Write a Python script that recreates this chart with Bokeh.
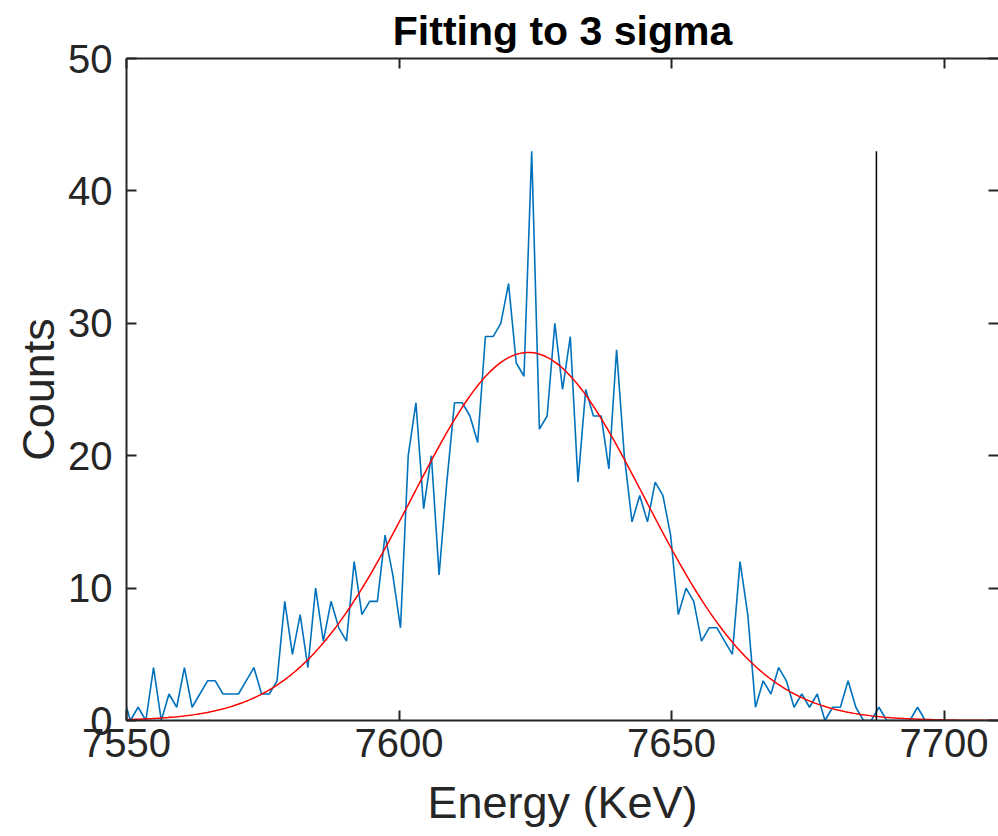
import numpy as np
from bokeh.plotting import figure
from bokeh.models import LinearAxis, Range1d, FixedTicker
from bokeh.embed import file_html
from bokeh.resources import INLINE

# ---- data ----
e_start = 7549.3          # energy of the first bin (keV)
e_step = 1.416            # bin width (keV)
counts = [2,
          0, 1, 0, 4, 0, 2, 1, 4, 1, 2,
          3, 3, 2, 2, 2, 3, 4, 2, 2, 3,
          9, 5, 8, 4, 10, 6, 9, 7, 6, 12,
          8, 9, 9, 14, 11, 7, 20, 24, 16, 20,
          11, 18, 24, 24, 23, 21, 29, 29, 30, 33,
          27, 26, 43, 22, 23, 30, 25, 29, 18, 25,
          23, 23, 19, 28, 20, 15, 17, 15, 18, 17,
          14, 8, 10, 9, 6, 7, 7, 6, 5, 12,
          8, 1, 3, 2, 4, 3, 1, 2, 1, 2,
          0, 1, 1, 3, 1, 0, 0, 1, 0, 0,
          0, 0, 1, 0, 0, 0]
fit_amp = 27.8
fit_mu = 7623.7
fit_sigma = 21.3
n_sigma = 3
x_ticks = [7550, 7600, 7650, 7700]
y_ticks = [0, 10, 20, 30, 40, 50]
x_lo, x_hi = 7550, 7710
y_lo, y_hi = 0, 50

energies = e_start + e_step * np.arange(len(counts))
fit_x = np.linspace(x_lo, x_hi, 400)
fit_y = fit_amp * np.exp(-(fit_x - fit_mu) ** 2 / (2 * fit_sigma ** 2))
cut = fit_mu + n_sigma * fit_sigma

FONT = "Liberation Sans"
AX = "#262626"

p = figure(width=998, height=836, output_backend="svg", toolbar_location=None,
           x_range=Range1d(x_lo, x_hi), y_range=Range1d(y_lo, y_hi),
           min_border_left=126, min_border_right=0, min_border_top=57,
           min_border_bottom=116, x_axis_label="Energy (KeV)", y_axis_label="Counts")
p.grid.visible = False
p.outline_line_color = None
p.background_fill_color = "white"
p.border_fill_color = "white"

p.title.text = "Fitting to 3 sigma"
p.title.align = "center"
p.title.text_font = FONT
p.title.text_font_size = "41px"
p.title.text_font_style = "bold"
p.title.text_color = "black"
p.title.standoff = 10

for ax, tk in ((p.xaxis[0], x_ticks), (p.yaxis[0], y_ticks)):
    ax.ticker = FixedTicker(ticks=tk)
    ax.major_tick_in = 10
    ax.major_tick_out = 0
    ax.minor_tick_line_color = None
    ax.axis_line_color = AX
    ax.axis_line_width = 2
    ax.major_tick_line_color = AX
    ax.major_tick_line_width = 2
    ax.major_label_text_font = FONT
    ax.major_label_text_font_size = "40px"
    ax.major_label_text_color = AX
    ax.axis_label_text_font = FONT
    ax.axis_label_text_font_size = "45px"
    ax.axis_label_text_font_style = "normal"
    ax.axis_label_text_color = AX
p.xaxis[0].major_label_standoff = 8
p.xaxis[0].axis_label_standoff = 17
p.yaxis[0].major_label_standoff = 14
p.yaxis[0].axis_label_standoff = 1

top = LinearAxis(ticker=FixedTicker(ticks=x_ticks))
right = LinearAxis(ticker=FixedTicker(ticks=y_ticks))
for ax in (top, right):
    ax.major_tick_in = 10
    ax.major_tick_out = 0
    ax.minor_tick_line_color = None
    ax.major_tick_line_color = AX
    ax.major_tick_line_width = 2
    ax.major_label_text_font_size = "1px"
    ax.major_label_text_color = None
    ax.major_label_standoff = 0
top.axis_line_color = AX
top.axis_line_width = 2
right.axis_line_color = None
p.add_layout(top, "above")
p.add_layout(right, "right")

p.line(energies, counts, line_color="#0072BD", line_width=1.6)
p.line(fit_x, fit_y, line_color="#FF0000", line_width=1.5)
p.segment(x0=[cut], y0=[0], x1=[cut], y1=[max(counts)], line_color="black", line_width=1.5)

open("out.html", "w").write(file_html(p, INLINE))
